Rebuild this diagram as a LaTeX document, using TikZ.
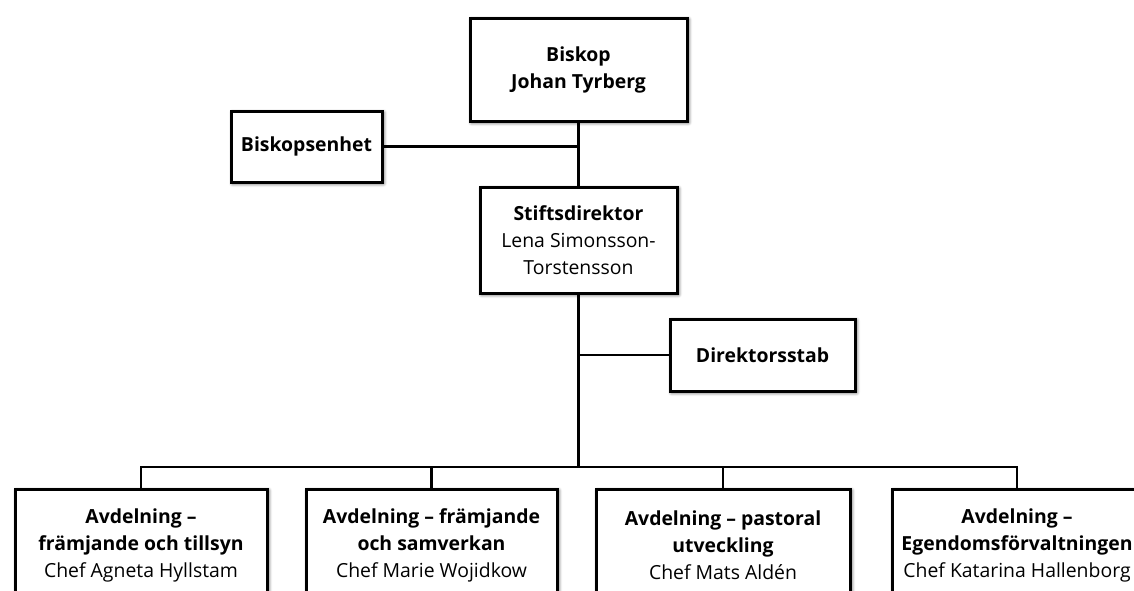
\documentclass[tikz,border=0pt]{standalone}
\usepackage{fontspec}
\setmainfont{Open Sans}
\usetikzlibrary{shadows.blur}
\begin{document}
\begin{tikzpicture}[x=1pt,y=-1pt,
  box/.style={draw, line width=3pt, fill=white, align=center, inner sep=0pt,
    font=\fontsize{19.4}{27}\selectfont,
    blur shadow={shadow xshift=1.5pt, shadow yshift=-1.5pt, shadow blur radius=3.5pt, shadow opacity=75}},
  conn/.style={line width=2.4pt}]
\useasboundingbox (0,0) rectangle (1134,590);
\clip (0,0) rectangle (1134,590);
\node[box, minimum width=217pt, minimum height=103pt] (bisk) at (578.5,69.5) {\bfseries Biskop\\\bfseries Johan Tyrberg};
\node[box, minimum width=151pt, minimum height=71pt] (enhet) at (306.5,146.5) {\bfseries Biskopsenhet};
\node[box, minimum width=197pt, minimum height=106pt] (stift) at (578.5,240) {\bfseries Stiftsdirektor\\Lena Simonsson-\\Torstensson};
\node[box, minimum width=185pt, minimum height=72pt] (dir) at (762.5,355) {\bfseries Direktorsstab};
\node[box, minimum width=252pt, minimum height=112pt] (a1) at (141,545) {\bfseries Avdelning --\\\bfseries främjande och tillsyn\\Chef Agneta Hyllstam};
\node[box, minimum width=251pt, minimum height=112pt] (a2) at (431.5,545) {\bfseries Avdelning -- främjande\\\bfseries och samverkan\\Chef Marie Wojidkow};
\node[box, minimum width=254pt, minimum height=112pt] (a3) at (723,545) {\bfseries Avdelning -- pastoral\\\bfseries utveckling\\Chef Mats Aldén};
\node[box, minimum width=250pt, minimum height=112pt] (a4) at (1017,545) {\bfseries Avdelning --\\\bfseries Egendomsförvaltningen\\Chef Katarina Hallenborg};
\coordinate (bus) at (578,467);
\draw[conn] (bisk.south) -- (stift.north);
\draw[conn] (stift.south) -- (stift.south |- bus);
\draw[conn] (enhet.east) -- (enhet.east -| bisk.south);
\draw[conn] (dir.west) -- (dir.west -| stift.south);
\draw[conn] (a1.north) -- (a1.north |- bus) -- (a4.north |- bus) -- (a4.north);
\draw[conn] (a2.north) -- (a2.north |- bus);
\draw[conn] (a3.north) -- (a3.north |- bus);
\end{tikzpicture}
\end{document}
